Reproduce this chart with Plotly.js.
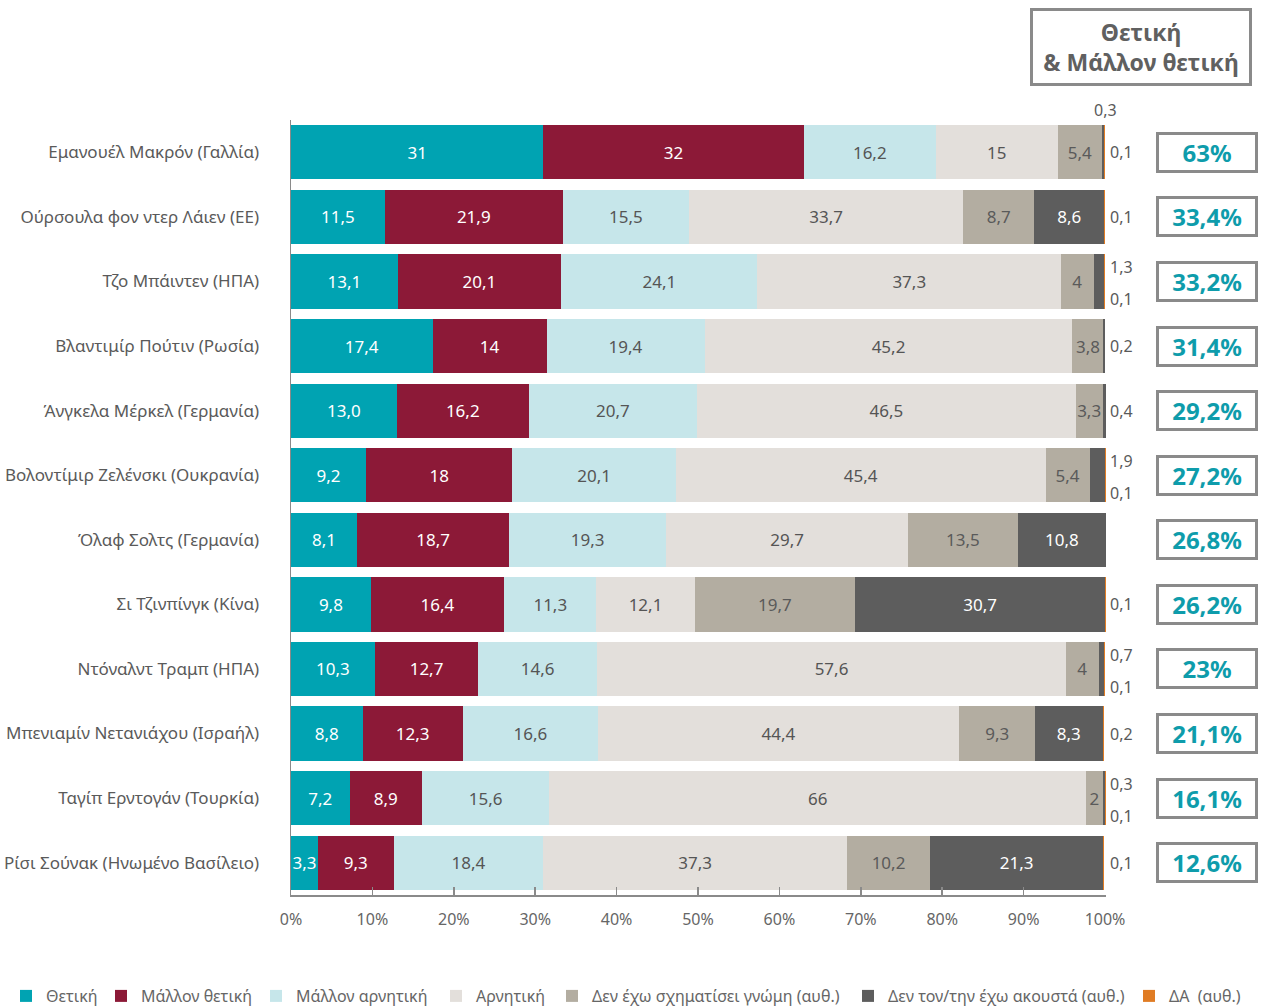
<!DOCTYPE html>
<html>
<head>
<meta charset="utf-8">
<script src="https://cdn.plot.ly/plotly-3.0.1.min.js"></script>
<style>
  html, body { margin: 0; padding: 0; background: #ffffff; }
  #chart { width: 1261px; height: 1006px; }
</style>
</head>
<body>
<div id="chart"></div>
<script>
// ---------------- DATA ----------------
const categories = [
  "Εμανουέλ Μακρόν (Γαλλία)",
  "Ούρσουλα φον ντερ Λάιεν (ΕΕ)",
  "Τζο Μπάιντεν (ΗΠΑ)",
  "Βλαντιμίρ Πούτιν (Ρωσία)",
  "Άνγκελα Μέρκελ (Γερμανία)",
  "Βολοντίμιρ Ζελένσκι (Ουκρανία)",
  "Όλαφ Σολτς (Γερμανία)",
  "Σι Τζινπίνγκ (Κίνα)",
  "Ντόναλντ Τραμπ (ΗΠΑ)",
  "Μπενιαμίν Νετανιάχου (Ισραήλ)",
  "Ταγίπ Ερντογάν (Τουρκία)",
  "Ρίσι Σούνακ (Ηνωμένο Βασίλειο)"
];
const seriesNames = [
  "Θετική", "Μάλλον θετική", "Μάλλον αρνητική", "Αρνητική",
  "Δεν έχω σχηματίσει γνώμη (αυθ.)", "Δεν τον/την έχω ακουστά (αυθ.)", "ΔΑ  (αυθ.)"
];
const positive      = [31, 11.5, 13.1, 17.4, 13.0, 9.2, 8.1, 9.8, 10.3, 8.8, 7.2, 3.3];
const ratherPos     = [32, 21.9, 20.1, 14, 16.2, 18, 18.7, 16.4, 12.7, 12.3, 8.9, 9.3];
const ratherNeg     = [16.2, 15.5, 24.1, 19.4, 20.7, 20.1, 19.3, 11.3, 14.6, 16.6, 15.6, 18.4];
const negative      = [15, 33.7, 37.3, 45.2, 46.5, 45.4, 29.7, 12.1, 57.6, 44.4, 66, 37.3];
const noOpinion     = [5.4, 8.7, 4, 3.8, 3.3, 5.4, 13.5, 19.7, 4, 9.3, 2, 10.2];
const notHeard      = [0.3, 8.6, 1.3, 0.2, 0.4, 1.9, 10.8, 30.7, 0.7, 8.3, 0.3, 21.3];
const noAnswer      = [0.1, 0.1, 0.1, 0, 0, 0.1, 0, 0.1, 0.1, 0.2, 0.1, 0.1];
const tickVals      = [0, 10, 20, 30, 40, 50, 60, 70, 80, 90, 100];
const tickText      = ["0%", "10%", "20%", "30%", "40%", "50%", "60%", "70%", "80%", "90%", "100%"];
const boxTitle      = "Θετική<br>& Μάλλον θετική";
// labels printed with one decimal even when it is zero (as in the source)
const keepDecimal   = { "4|0": true };

// ---------------- STYLE ----------------
const colors = ["#00A3B2", "#8C1937", "#C6E6EA", "#E3DFDB", "#B3ADA1", "#5D5D5D", "#E07C24"];
const textColors = ["#ffffff", "#ffffff", "#555555", "#555555", "#5a5a5a", "#ffffff", "#555555"];
const FONT = "'Noto Sans', 'Open Sans', sans-serif";
const GREY = "#5a5a5a";
const W = 1261, H = 1006;
const M = { l: 291, r: 155, t: 120, b: 111 };
const plotW = W - M.l - M.r, plotH = H - M.t - M.b;
// left pixel of each legend swatch
const legendSwatchPx = [20, 115, 270, 450, 566, 862, 1143];
const legendCenterPx = 996;

function fmt(v, key) {
  let s = String(Math.round(v * 10) / 10);
  if (keepDecimal[key] && s.indexOf('.') < 0) s += '.0';
  return s.replace('.', ',');
}

const allSeries = [positive, ratherPos, ratherNeg, negative, noOpinion, notHeard, noAnswer];
const legendKey = i => i === 0 ? 'legend' : 'legend' + (i + 1);

const traces = allSeries.map((vals, si) => ({
  type: 'bar',
  orientation: 'h',
  name: seriesNames[si],
  legend: legendKey(si),
  y: categories,
  x: vals,
  marker: { color: colors[si], line: { width: 0 } },
  text: vals.map((v, ri) => v >= 2 ? fmt(v, ri + '|' + si) : ''),
  textposition: 'inside',
  insidetextanchor: 'middle',
  constraintext: 'none',
  textangle: 0,
  textfont: { family: FONT, size: 17, color: textColors[si] },
  hoverinfo: 'name+x',
  cliponaxis: false
}));

const annotations = [];

categories.forEach((cat, ri) => {
  const smalls = [];
  if (notHeard[ri] > 0 && notHeard[ri] < 2) smalls.push(notHeard[ri]);
  if (noAnswer[ri] > 0 && noAnswer[ri] < 2) smalls.push(noAnswer[ri]);
  smalls.forEach((v, k) => {
    let yshift = 0, xanchor = 'left', xshift = 3;
    if (smalls.length === 2) {
      if (k === 0) {
        if (ri === 0) { yshift = 42; xanchor = 'center'; xshift = 0; }
        else yshift = 14;
      } else {
        yshift = ri === 0 ? 0 : -18;
      }
    }
    annotations.push({
      xref: 'x', yref: 'y', x: 100, y: cat, text: fmt(v),
      showarrow: false, xanchor: xanchor, yanchor: 'middle',
      xshift: xshift, yshift: yshift,
      font: { family: FONT, size: 16, color: GREY }
    });
  });
  const tot = positive[ri] + ratherPos[ri];
  annotations.push({
    xref: 'paper', yref: 'y', x: 1.124, y: cat,
    text: '<b>' + fmt(tot) + '%</b>',
    showarrow: false, xanchor: 'center', yanchor: 'middle',
    width: 96, height: 35, borderwidth: 3, bordercolor: '#8a8a8a', borderpad: 0,
    bgcolor: '#ffffff',
    font: { family: FONT, size: 24, color: '#0E9CAB' }
  });
});

annotations.push({
  xref: 'paper', yref: 'paper', x: 1.043, y: 1.094,
  text: '<b>' + boxTitle + '</b>',
  showarrow: false, xanchor: 'center', yanchor: 'middle', align: 'center',
  width: 216, height: 72, borderwidth: 3, bordercolor: '#8a8a8a', borderpad: 0,
  bgcolor: '#ffffff',
  font: { family: FONT, size: 23, color: '#606060' }
});

const layout = {
  width: W, height: H,
  barmode: 'stack',
  bargap: 0.16,
  paper_bgcolor: '#ffffff',
  plot_bgcolor: '#ffffff',
  margin: { l: M.l, r: M.r, t: M.t, b: M.b, autoexpand: false },
  font: { family: FONT, color: GREY },
  showlegend: true,
  xaxis: {
    range: [0, 100.12],
    tickvals: tickVals, ticktext: tickText,
    ticks: 'inside', ticklen: 8, tickcolor: '#8a8a8a', tickwidth: 1.5,
    showline: true, linecolor: '#8a8a8a', linewidth: 1.5,
    showgrid: false, zeroline: false,
    ticklabelstandoff: 9,
    tickfont: { family: FONT, size: 16, color: '#666666' },
    fixedrange: true
  },
  yaxis: {
    autorange: 'reversed',
    type: 'category',
    showline: true, linecolor: '#8a8a8a', linewidth: 1.5,
    showgrid: false, zeroline: false, ticks: '',
    ticklabelstandoff: 27,
    tickfont: { family: FONT, size: 17, color: '#5a5a5a' },
    fixedrange: true
  },
  annotations: annotations
};

legendSwatchPx.forEach((px, i) => {
  layout[legendKey(i)] = {
    orientation: 'h',
    x: (px - 14 - M.l) / plotW, xanchor: 'left',
    y: -(legendCenterPx - (M.t + plotH)) / plotH, yanchor: 'middle',
    font: { family: FONT, size: 16, color: '#666666' },
    itemwidth: 30, bgcolor: 'rgba(0,0,0,0)'
  };
});

Plotly.newPlot('chart', traces, layout, { displayModeBar: false, staticPlot: true });
</script>
</body>
</html>
